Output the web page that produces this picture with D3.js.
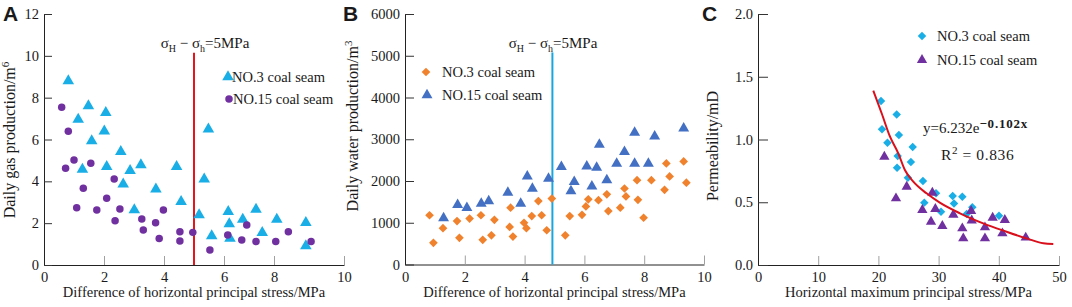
<!DOCTYPE html>
<html>
<head>
<meta charset="utf-8">
<script src="https://d3js.org/d3.v7.min.js"></script>
<style>
  body { margin: 0; background: #fff; }
  svg text { font-family: "Liberation Serif", "Times New Roman", serif; fill: #1a1a1a; }
  svg text.letter { font-family: "Liberation Sans", Arial, sans-serif; font-weight: bold; font-size: 21px; }
</style>
</head>
<body>
<svg id="chart" width="1072" height="307"></svg>
<script>

// ---------- data ----------
// A: daily gas production vs difference of horizontal principal stress
const stressTicks = [0, 2, 4, 6, 8, 10];
const gasTicks = [0, 2, 4, 6, 8, 10, 12];
const gasNo3 = [[0.81,8.8],[1.48,7.6],[1.14,6.96],[2.06,7.28],[2.01,6.4],[1.59,5.93],[2.56,5.42],[5.48,6.49],
  [1.28,4.57],[2.09,4.7],[3.23,4.78],[2.87,4.51],[2.64,3.86],[4.42,4.7],[3.73,3.62],[5.34,4.1],[4.57,3.03],
  [3.01,2.63],[5.17,2.39],[6.17,2.55],[6.21,1.96],[6.75,2.18],[7.28,2.66],[8.08,2.18],[8.91,2.02],[5.59,1.39],
  [6.24,1.27],[7.53,1.55],[8.91,0.91]];
const gasNo15 = [[0.59,7.54],[0.81,6.4],[1.0,5.02],[0.72,4.62],[1.56,4.86],[1.31,3.67],[2.34,4.11],[1.09,2.74],
  [1.76,2.63],[2.09,3.19],[2.53,2.68],[2.37,2.12],[3.26,2.2],[3.31,1.67],[3.72,2.02],[3.98,2.63],[3.84,1.27],
  [4.53,1.59],[4.53,1.15],[4.96,1.56],[5.53,0.72],[6.15,1.43],[6.71,1.2],[6.91,1.91],[7.28,1.12],[8.05,1.12],
  [8.41,1.59],[9.06,1.12]];
const gasLine = [[5.0, 0], [5.0, 10.15]];

// B: daily water production
const waterTicks = [0, 1000, 2000, 3000, 4000, 5000, 6000];
const waterNo3 = [[0.82,1180],[0.95,520],[1.27,870],[1.74,1040],[1.82,640],[2.16,1100],[2.54,1180],[2.6,590],
  [2.89,700],[2.99,1070],[3.5,900],[3.53,1360],[3.61,670],[3.98,1000],[4.06,870],[4.24,1160],[4.46,1520],
  [4.57,1180],[4.74,820],[4.91,1580],[5.36,700],[5.51,1160],[5.92,1190],[6.05,1390],[6.13,1560],[6.47,1540],
  [6.75,1680],[6.8,1280],[7.2,1360],[7.34,1820],[7.39,1630],[7.76,2020],[7.79,1550],[7.98,1120],[8.24,2020],
  [8.74,2420],[8.85,2110],[8.68,1790],[9.32,2470],[9.41,1960]];
const waterNo15 = [[6.5,2870],[7.34,2700],[7.68,3160],[8.35,3070],[9.32,3260],[5.23,2340],[6.08,2350],[6.41,2320],
  [7.08,2420],[7.68,2420],[8.14,2420],[4.09,2110],[4.26,1820],[4.8,2060],[5.66,1980],[5.55,1760],[6.25,1870],
  [6.75,2020],[3.44,1720],[3.87,1460],[1.76,1430],[2.07,1360],[2.55,1460],[2.8,1520],[1.29,1110]];
const waterLine = [[4.93, 0], [4.93, 5080]];

// C: permeability vs horizontal maximum principal stress
const maxStressTicks = [0, 10, 20, 30, 40, 50];
const permTicks = [0, 0.5, 1.0, 1.5, 2.0];
const permNo3 = [[20.43,1.307],[23.04,1.2],[20.6,1.081],[23.4,1.036],[21.5,0.975],[25.7,0.94],[23.2,0.869],
  [25.4,0.82],[23.1,0.775],[24.9,0.695],[27.4,0.67],[27.63,0.497],[29.57,0.571],[32.34,0.55],[32.56,0.49],
  [33.94,0.544],[35.6,0.46],[34.67,0.406],[30.4,0.425],[40.03,0.393]];
const permNo15 = [[20.99,0.863],[22.92,0.531],[24.7,0.624],[27.3,0.438],[28.96,0.576],[29.46,0.446],[28.74,0.345],
  [30.62,0.311],[32.45,0.4],[33.94,0.292],[34.1,0.212],[35.5,0.355],[35.4,0.43],[37.7,0.3],[37.7,0.212],
  [38.98,0.377],[41.0,0.359],[40.6,0.252],[44.47,0.218]];
const permFit = [[19.15,1.389],[20.54,1.209],[21.93,1.022],[23.3,0.89],[24.4,0.757],[25.8,0.664],[28.0,0.571],
  [30.2,0.497],[33.55,0.412],[37.4,0.332],[41.3,0.265],[44.6,0.212],[47.4,0.173],[49.05,0.167]];

// ---------- drawing ----------
const svg = d3.select("#chart");
const serif = "'Liberation Serif', 'Times New Roman', serif";

const cyan = "#1aaee6", purple = "#7030a0", orange = "#f0822e", blue = "#4470c4";

function symbolFor(shape) {
  return shape === "circle" ? d3.symbolCircle : shape === "diamond" ? d3.symbolSquare : d3.symbolTriangle;
}

function marks(g, x, y, data, shape, color, size) {
  g.selectAll(null).data(data).enter().append("path")
    .attr("d", d3.symbol(symbolFor(shape), size))
    .attr("transform", d => "translate(" + x(d[0]) + "," + y(d[1]) + ")" + (shape === "diamond" ? " rotate(45)" : ""))
    .attr("fill", color);
}

function legendItem(g, px, py, shape, color, size, label, gap) {
  g.append("path").attr("d", d3.symbol(symbolFor(shape), size))
    .attr("transform", "translate(" + px + "," + py + ")" + (shape === "diamond" ? " rotate(45)" : ""))
    .attr("fill", color);
  g.append("text").attr("x", px + gap).attr("y", py + 5)
    .style("font-size", "14.5px").text(label);
}

function axes(p) {
  const g = svg.append("g");
  const x = d3.scaleLinear().domain(p.xDomain).range(p.xRange);
  const y = d3.scaleLinear().domain(p.yDomain).range([p.bottom, p.top]);

  const xa = g.append("g").attr("transform", "translate(0," + p.bottom + ")")
    .call(d3.axisBottom(x).tickValues(p.xTicks).tickSize(-9).tickSizeOuter(0).tickPadding(7));
  xa.selectAll(".tick line").attr("stroke", "#a0a0a0");
  xa.select(".domain").attr("stroke", "#222");
  xa.selectAll("text").style("font-size", "14.5px").style("font-family", serif).attr("fill", "#1a1a1a");

  const ya = g.append("g").attr("transform", "translate(" + p.xRange[0] + ",0)")
    .call(d3.axisLeft(y).tickValues(p.yTicks).tickFormat(p.yFormat).tickSize(-p.yTickLen).tickSizeOuter(0).tickPadding(5));
  ya.selectAll(".tick line").attr("stroke", "#333");
  ya.select(".domain").attr("stroke", "#222");
  ya.selectAll("text").style("font-size", "14.5px").style("font-family", serif).attr("fill", "#1a1a1a");

  // axis titles
  g.append("text").attr("x", (p.xRange[0] + p.xRange[p.xRange.length - 1]) / 2).attr("y", 297)
    .attr("text-anchor", "middle").style("font-size", "14.5px").text(p.xTitle);
  const yt = g.append("text").attr("transform", "translate(" + p.yTitleX + "," + p.yTitleY + ") rotate(-90)")
    .attr("text-anchor", "middle").style("font-size", "16px").text(p.yTitle);
  if (p.yTitleSup) yt.append("tspan").attr("dy", -6).style("font-size", "11px").text(p.yTitleSup);

  g.append("text").attr("class", "letter").attr("x", p.letterX).attr("y", 21).text(p.letter);
  return {g: g, x: x, y: y};
}

function sigmaLabel(g, cx, cy) {
  const t = g.append("text").attr("x", cx).attr("y", cy).attr("text-anchor", "middle").style("font-size", "15px");
  t.append("tspan").text("σ");
  t.append("tspan").attr("dy", 4).style("font-size", "10px").text("H");
  t.append("tspan").attr("dy", -4).text("  −  σ");
  t.append("tspan").attr("dy", 4).style("font-size", "10px").text("h");
  t.append("tspan").attr("dy", -4).text("=5MPa");
}

// panel A (the original x axis has uneven tick spacing, kept here)
const A = axes({
  xDomain: stressTicks, xRange: [44, 104, 164, 224, 274, 344], xTicks: stressTicks,
  yDomain: [0, 12], yTicks: gasTicks, yFormat: d3.format("d"), top: 14, bottom: 265, yTickLen: 8,
  xTitle: "Difference of horizontal principal stress/MPa",
  yTitle: "Daily gas production/m", yTitleSup: "6", yTitleX: 15, yTitleY: 140,
  letter: "A", letterX: 3
});
A.g.append("path").datum(gasLine).attr("fill", "none").attr("stroke", "#e8141c").attr("stroke-width", 2)
  .attr("d", d3.line().x(d => A.x(d[0])).y(d => A.y(d[1])));
marks(A.g, A.x, A.y, gasNo3, "triangle", cyan, 58);
marks(A.g, A.x, A.y, gasNo15, "circle", purple, 44);
sigmaLabel(A.g, 205, 48);
legendItem(A.g, 228, 77, "triangle", cyan, 58, "NO.3 coal seam", 4);
legendItem(A.g, 229, 99, "circle", purple, 44, "NO.15 coal seam", 4);

// panel B
const B = axes({
  xDomain: [0, 10], xRange: [405, 704], xTicks: stressTicks,
  yDomain: [0, 6000], yTicks: waterTicks, yFormat: d3.format("d"), top: 14, bottom: 264.5, yTickLen: 9,
  xTitle: "Difference of horizontal principal stress/MPa",
  yTitle: "Daily water production/m", yTitleSup: "3", yTitleX: 358, yTitleY: 126,
  letter: "B", letterX: 343
});
B.g.append("path").datum(waterLine).attr("fill", "none").attr("stroke", "#19a6df").attr("stroke-width", 2)
  .attr("d", d3.line().x(d => B.x(d[0])).y(d => B.y(d[1])));
marks(B.g, B.x, B.y, waterNo3, "diamond", orange, 38);
marks(B.g, B.x, B.y, waterNo15, "triangle", blue, 52);
sigmaLabel(B.g, 553, 48);
legendItem(B.g, 426, 72, "diamond", orange, 38, "NO.3 coal seam", 16);
legendItem(B.g, 427, 95, "triangle", blue, 52, "NO.15 coal seam", 15);

// panel C
const C = axes({
  xDomain: [0, 50], xRange: [758, 1059], xTicks: maxStressTicks,
  yDomain: [0, 2], yTicks: permTicks, yFormat: d3.format(".1f"), top: 14, bottom: 265, yTickLen: 10,
  xTitle: "Horizontal maximum principal stress/MPa",
  yTitle: "Permeability/mD", yTitleX: 718, yTitleY: 146,
  letter: "C", letterX: 702
});
marks(C.g, C.x, C.y, permNo3, "diamond", cyan, 36);
marks(C.g, C.x, C.y, permNo15, "triangle", purple, 46);
C.g.append("path").datum(permFit).attr("fill", "none").attr("stroke", "#d9101c").attr("stroke-width", 2)
  .attr("d", d3.line().curve(d3.curveMonotoneX).x(d => C.x(d[0])).y(d => C.y(d[1])));
legendItem(C.g, 922, 36, "diamond", cyan, 36, "NO.3 coal seam", 15);
legendItem(C.g, 922, 60, "triangle", purple, 46, "NO.15 coal seam", 15);

const eq = C.g.append("text").attr("x", 923).attr("y", 133).style("font-size", "15px");
eq.append("tspan").text("y=6.232e");
eq.append("tspan").attr("dy", -5).style("font-size", "13px").style("font-weight", "bold")
  .style("letter-spacing", "0.8px").text("−0.102x");
const r2 = C.g.append("text").attr("x", 941).attr("y", 160).style("font-size", "15.5px").style("letter-spacing", "0.6px");
r2.append("tspan").text("R");
r2.append("tspan").attr("dy", -6).style("font-size", "11px").text("2");
r2.append("tspan").attr("dy", 6).text(" = 0.836");

</script>
</body>
</html>
